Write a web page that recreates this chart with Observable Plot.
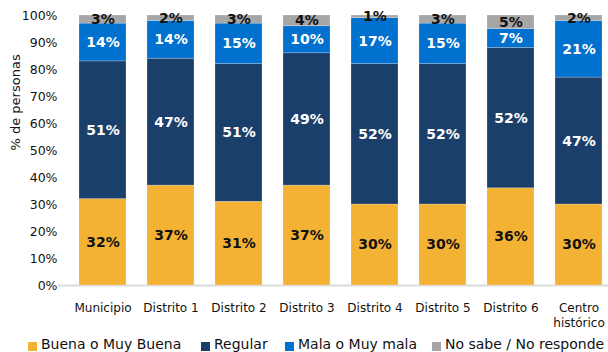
<!DOCTYPE html>
<html><head><meta charset="utf-8">
<script src="https://cdn.jsdelivr.net/npm/d3@7"></script>
<script src="https://cdn.jsdelivr.net/npm/@observablehq/plot@0.6"></script>
<style>
body{margin:0;background:#fff;font-family:"DejaVu Sans",sans-serif;}
#wrap{position:relative;width:608px;height:352px;overflow:hidden;}
#legend{position:relative;height:22px;}
.sw{position:absolute;top:12px;width:9px;height:9px;}
.lt{position:absolute;top:6px;font-size:14px;line-height:17px;color:#111;white-space:nowrap;}
</style>
</head><body><div id="wrap"><div id="chart"></div><div id="legend"></div></div>
<script>
const categories = ["Municipio","Distrito 1","Distrito 2","Distrito 3","Distrito 4","Distrito 5","Distrito 6","Centro\nhistórico"];
const series = ["Buena o Muy Buena","Regular","Mala o Muy mala","No sabe / No responde"];
const buena   = [32,37,31,37,30,30,36,30];
const regular = [51,47,51,49,52,52,52,47];
const mala    = [14,14,15,10,17,15,7,21];
const nosabe  = [3,2,3,4,1,3,5,2];
const colors = ["#F4B235","#1B3F6B","#0071CE","#A6A6A6"];
const yTicks = [0,10,20,30,40,50,60,70,80,90,100];
const legendX = [28,201,285,432];

const values = [buena, regular, mala, nosabe];
const data = [];
categories.forEach((c,i)=>{
  series.forEach((s,j)=>{ data.push({cat:c, series:s, value:values[j][i]}); });
});
const darkSeries = new Set([series[1], series[2]]);
const stackOpts = () => ({x:"cat", y:"value", z:"series", text:d=>d.value+"%", fontWeight:"bold", fontSize:14});

const chart = Plot.plot({
  width:608, height:330,
  marginTop:15, marginBottom:45, marginLeft:58, marginRight:0,
  style:{fontFamily:"DejaVu Sans, sans-serif", fontSize:"12px", color:"#111"},
  x:{type:"band", domain:categories, paddingInner:0.309, paddingOuter:0.1985, align:0.778, label:null},
  y:{domain:[0,100], label:null},
  color:{domain:series, range:colors},
  marks:[
    Plot.ruleY([0],{stroke:"#dcdcdc", strokeWidth:2}),
    Plot.barY(data,{x:"cat", y:"value", fill:"series", stroke:"#ffffff", strokeOpacity:0.35, strokeWidth:0.6}),
    Plot.text(data, Plot.filter(d=>!darkSeries.has(d.series), Plot.stackY({...stackOpts(), fill:"#111"}))),
    Plot.text(data, Plot.filter(d=>darkSeries.has(d.series), Plot.stackY({...stackOpts(), fill:"#ffffff"}))),
    Plot.axisY({ticks:yTicks, tickFormat:d=>d+"%", tickSize:0, tickPadding:1, fontSize:12.5, label:null}),
    Plot.axisX({tickSize:0, tickPadding:17, fontSize:12, lineHeight:1.17, label:null}),
    Plot.text(["% de personas"],{frameAnchor:"left", dx:-43, rotate:-90, fontSize:13, fill:"#111"})
  ]
});
document.getElementById("chart").appendChild(chart);

const leg = document.getElementById("legend");
series.forEach((s,i)=>{
  const sw = document.createElement("div");
  sw.className="sw"; sw.style.left=legendX[i]+"px"; sw.style.background=colors[i];
  const t = document.createElement("span");
  t.className="lt"; t.style.left=(legendX[i]+13)+"px"; t.textContent=s;
  leg.appendChild(sw); leg.appendChild(t);
});
</script>
</body></html>
